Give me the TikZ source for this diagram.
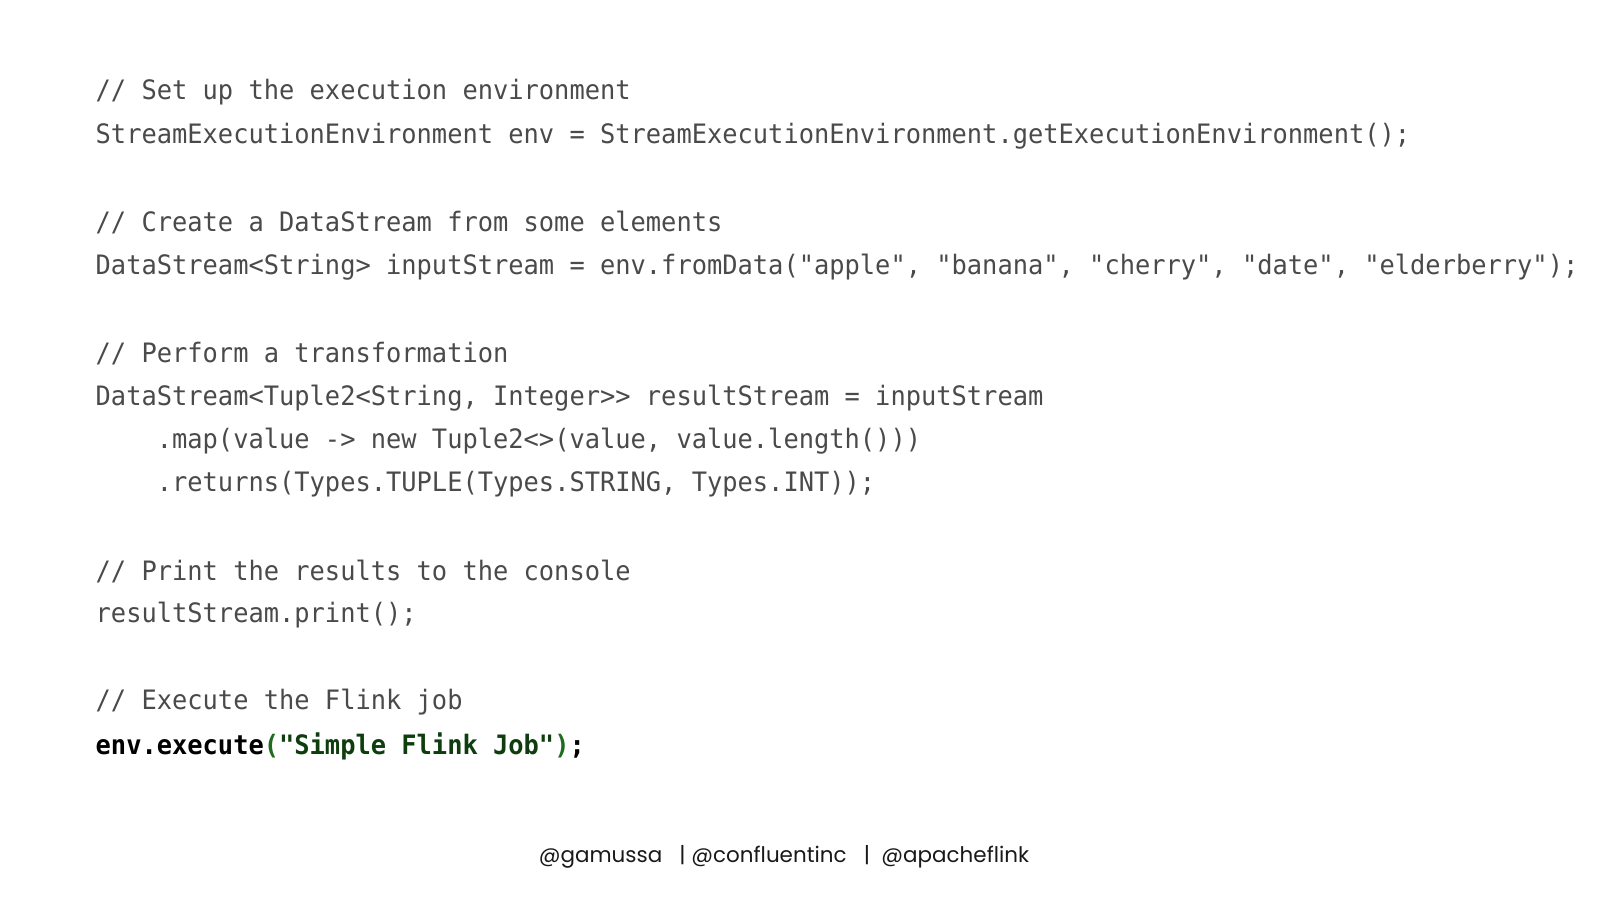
\documentclass[tikz,border=0pt]{standalone}
\usepackage{fontspec}
\setmonofont[FakeStretch=0.95]{DejaVu Sans Mono}
\newfontfamily\footfont{Poppins}
\usepackage{tikz}
\definecolor{codegray}{HTML}{4A4A4A}
\definecolor{strgreen}{HTML}{0E3D0E}
\definecolor{pargreen}{HTML}{1F6B1F}
\tikzset{codeline/.style={anchor=west,inner sep=0pt,text=codegray,
  font=\ttfamily\fontsize{7.6}{8}\selectfont}}
\begin{document}
\begin{tikzpicture}[x=0.01cm,y=-0.01cm]
        \useasboundingbox (0,0) rectangle (1600,900);
        % code lines, one node each
        \node[codeline] (c1) at (95,92) {// Set up the execution environment};
        \node[codeline] (c2) at (95,136) {StreamExecutionEnvironment env = StreamExecutionEnvironment.getExecutionEnvironment();};
        \node[codeline] (c3) at (95,223) {// Create a DataStream from some elements};
        \node[codeline] (c4) at (95,267) {DataStream<String> inputStream = env.fromData("apple", "banana", "cherry", "date", "elderberry");};
        \node[codeline] (c5) at (95,354) {// Perform a transformation};
        \node[codeline] (c6) at (95,398) {DataStream<Tuple2<String, Integer>> resultStream = inputStream};
        \node[codeline] (c7) at (95,441) {\ \ \ \ .map(value -> new Tuple2<>(value, value.length()))};
        \node[codeline] (c8) at (95,484) {\ \ \ \ .returns(Types.TUPLE(Types.STRING, Types.INT));};
        \node[codeline] (c9) at (95,572) {// Print the results to the console};
        \node[codeline] (c10) at (95,615) {resultStream.print();};
        \node[codeline] (c11) at (95,702) {// Execute the Flink job};
        \node[codeline,text=black] (c12) at (95,746) {\bfseries env.execute\textcolor{pargreen}{(}\textcolor{strgreen}{"Simple Flink Job"}\textcolor{pargreen}{)};};
        % footer
        \node[font=\footfont\fontsize{6.1}{8}\selectfont,text=black!90] (foot) at (784,857)
          {@gamussa\ \ \ |\ @confluentinc\ \ \ |\ \ @apacheflink};
      \end{tikzpicture}
\end{document}
